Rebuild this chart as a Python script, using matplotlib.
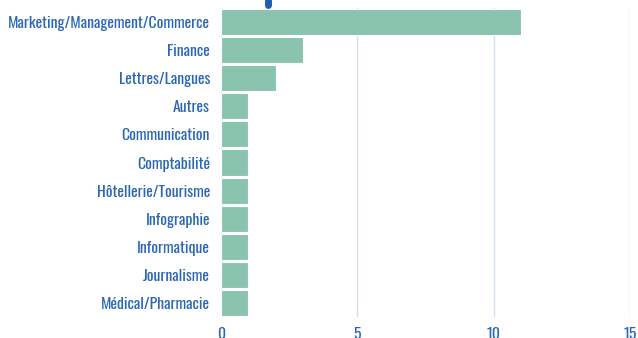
import matplotlib
matplotlib.use('Agg')
import matplotlib.pyplot as plt

categories = ['Marketing/Management/Commerce', 'Finance', 'Lettres/Langues', 'Autres',
              'Communication', 'Comptabilité', 'Hôtellerie/Tourisme', 'Infographie',
              'Informatique', 'Journalisme', 'Médical/Pharmacie']
counts = [11, 3, 2, 1, 1, 1, 1, 1, 1, 1, 1]
xticks = [0, 5, 10, 15]

blue = '#2b67b4'
fig = plt.figure(figsize=(6.38, 3.38), dpi=100)
ax = fig.add_axes([221 / 638, 1 - 317 / 338, 409 / 638, 309 / 338])
pos = list(range(len(categories)))
ax.barh(pos, counts, height=0.93, color='#8ac4ae', edgecolor='white', linewidth=0.8, zorder=2)
ax.set_ylim(len(categories) - 0.5, -0.5)
ax.set_xlim(0, 15)
ax.set_yticks(pos)
ax.set_yticklabels(categories)
ax.set_xticks(xticks)
ax.grid(axis='x', color='#d3dfec', linewidth=1, zorder=0)
for s in ax.spines.values():
    s.set_visible(False)
ax.tick_params(length=0, colors=blue, labelsize=11.3)
ax.tick_params(axis='y', pad=8)
ax.tick_params(axis='x', pad=7)
for lab in ax.get_xticklabels() + ax.get_yticklabels():
    lab.set_family('Oswald')
    lab.set_weight(400)
# bout de repère coupé en haut
fig.add_artist(plt.Line2D([268 / 638, 268 / 638], [1.0, 1 - 5 / 338], color='#1f5fb0',
                          linewidth=5, solid_capstyle='round', transform=fig.transFigure))
fig.savefig('out.png', dpi=100)
